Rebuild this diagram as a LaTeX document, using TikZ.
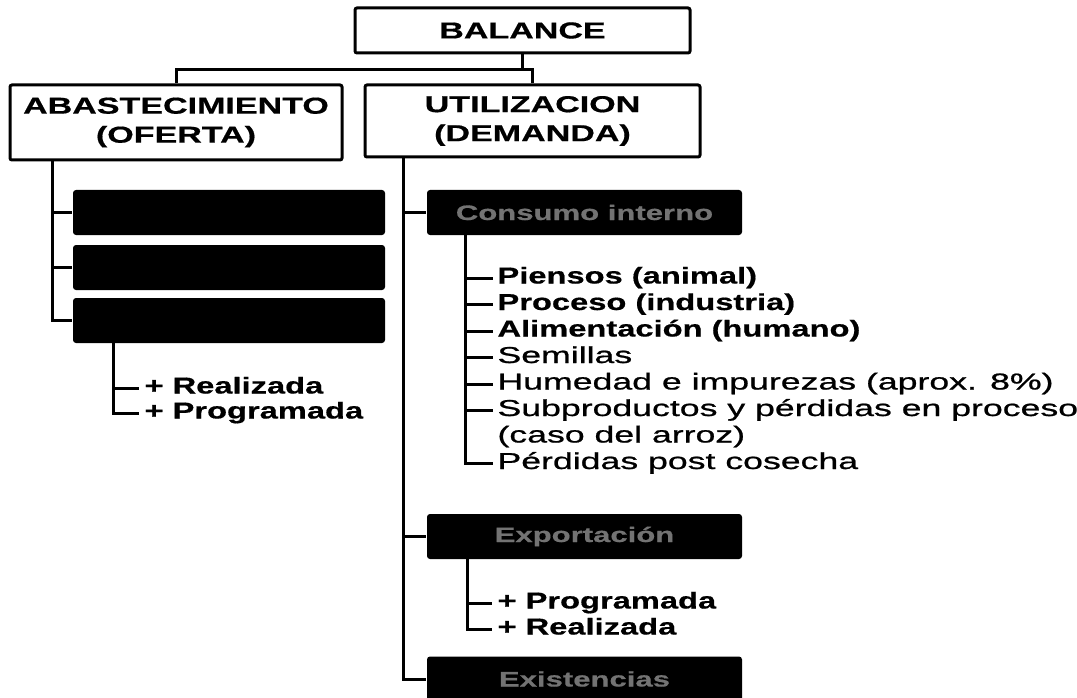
\documentclass[tikz,border=0pt]{standalone}
\usepackage{fontspec}
\setmainfont{Liberation Sans}
\newfontfamily\wf[FakeStretch=1.48,FakeBold=0.6]{Liberation Sans}
\newfontfamily\wfb[FakeStretch=1.42,FakeBold=0.6]{Liberation Sans}
\newfontfamily\wfr[FakeStretch=1.55,FakeBold=0.9]{Liberation Sans}
\begin{document}
\begin{tikzpicture}[x=1pt,y=-1pt,line width=3pt,
  hbox/.style={draw,rounded corners=2pt,align=center,inner sep=0pt,
    font=\wf\bfseries\fontsize{23}{29}\selectfont},
  bbox/.style={fill=black,rounded corners=3pt,inner sep=0pt,
    minimum height=45pt,text=black!55,
    font=\wf\bfseries\fontsize{21}{25}\selectfont},
  itemb/.style={anchor=west,inner sep=0pt,text height=16pt,text depth=5pt,
    font=\wfb\bfseries\fontsize{23}{26}\selectfont},
  itemr/.style={anchor=west,inner sep=0pt,text height=16pt,text depth=5pt,
    font=\wfr\fontsize{23}{26}\selectfont}]
\useasboundingbox (0,0) rectangle (1077,698);
% header boxes
\node[hbox,minimum width=335pt,minimum height=45pt] (bal) at (522.5,30.5) {BALANCE};
\node[hbox,minimum width=332pt,minimum height=75pt] (abast) at (176,122.5) {ABASTECIMIENTO\\(OFERTA)};
\node[hbox,minimum width=335pt,minimum height=72pt] (util) at (532.5,121) {UTILIZACION\\(DEMANDA)};
\coordinate (hub) at (532.5,70);
\draw (bal.south) -- (bal.south |- hub);
\draw (abast.north) |- (hub) -- (util.north);
% left side
\node[bbox,minimum width=312pt] (l1) at (229,212.5) {};
\node[bbox,minimum width=312pt] (l2) at (229,267.5) {};
\node[bbox,minimum width=312pt] (l3) at (229,320.5) {};
\coordinate (sL) at (52,160);
\draw (sL) |- (l3.west);
\draw (sL |- l1.west) -- (l1.west);
\draw (sL |- l2.west) -- (l2.west);
\node[itemb] (lr) at (143,388) {+ Realizada};
\node[itemb] (lp) at (143,413) {+ Programada};
\coordinate (sL3) at (113,343);
\draw (sL3) |- ([xshift=-4pt]lp.west);
\draw (sL3 |- lr.west) -- ([xshift=-4pt]lr.west);
% right side
\node[bbox,minimum width=315pt] (c1) at (584.5,212.5) {Consumo interno};
\node[bbox,minimum width=315pt] (x1) at (584.5,536.5) {Exportación};
\node[bbox,minimum width=315pt] (e1) at (584.5,679) {Existencias};
\coordinate (sR) at (403,157);
\draw (sR) |- (e1.west);
\draw (sR |- c1.west) -- (c1.west);
\draw (sR |- x1.west) -- (x1.west);
% consumo items
\node[itemb] (i1) at (496,278) {Piensos (animal)};
\node[itemb] (i2) at (496,304.5) {Proceso (industria)};
\node[itemb] (i3) at (496,331) {Alimentación (humano)};
\node[itemr] (i4) at (496,357.5) {Semillas};
\node[itemr] (i5) at (496,384) {Humedad e impurezas (aprox. 8\%)};
\node[itemr] (i6) at (496,410.5) {Subproductos y pérdidas en proceso};
\node[itemr] (i6b) at (496,437) {(caso del arroz)};
\node[itemr] (i7) at (496,463.5) {Pérdidas post cosecha};
\coordinate (sC) at (465,235);
\draw (sC) |- ([xshift=-3pt]i7.west);
\foreach \n in {i1,i2,i3,i4,i5,i6}
  \draw (sC |- \n.west) -- ([xshift=-3pt]\n.west);
% exportacion items
\node[itemb] (p1) at (496,603) {+ Programada};
\node[itemb] (p2) at (496,629) {+ Realizada};
\coordinate (sE) at (467,558);
\draw (sE) |- ([xshift=-4pt]p2.west);
\draw (sE |- p1.west) -- ([xshift=-4pt]p1.west);
\end{tikzpicture}
\end{document}
